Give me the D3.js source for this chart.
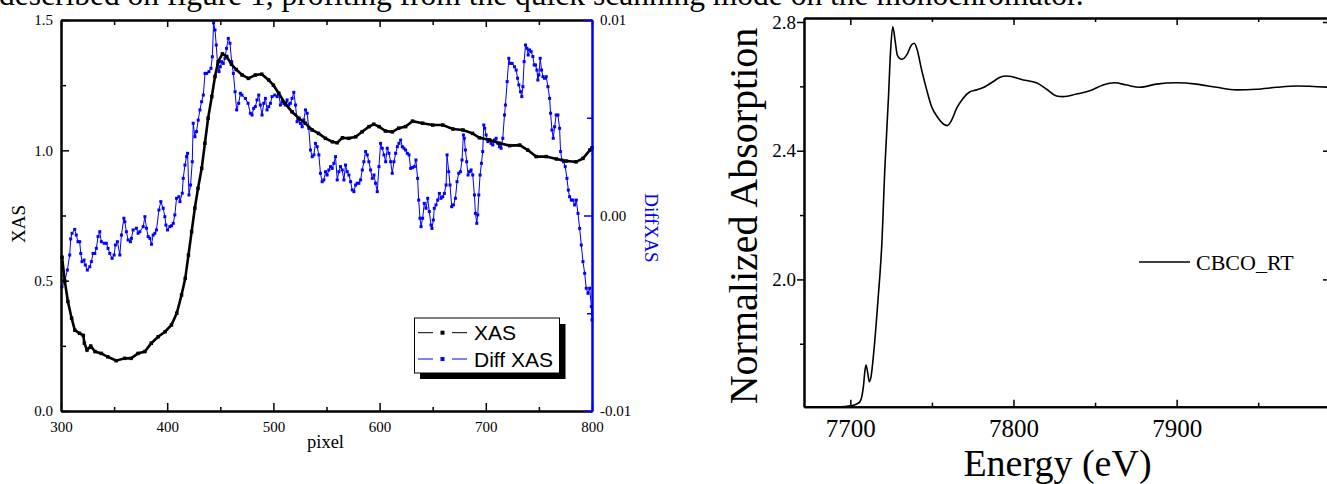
<!DOCTYPE html>
<html>
<head>
<meta charset="utf-8">
<script src="https://cdnjs.cloudflare.com/ajax/libs/d3/7.8.5/d3.min.js"></script>
<style>
html,body{margin:0;padding:0;background:#fff;}
svg{display:block;}
</style>
</head>
<body>
<svg id="chart" width="1327" height="484"></svg>
<script>
// ---------- data ----------
const xasPixel = [301,303.5,306.5,310,313,317.5,321,322,324.5,328,332,338,344,352,360,366,372.5,379,385,391.5,398,404,409,413.5,417,420,423,426,429,432.5,435.5,438.5,442,445,448,452,456,460.5,465,470.5,476.5,483,489,495.5,500,505,511,517.5,524,530,536.5,542.5,549,555.5,560,565,571,577.5,583.5,590,594.5,599.5,605.5,612,618,624.5,631,640.5,650,659.5,669,678.5,687.5,694,703.5,713,722.5,732,739.5,747.5,757,766.5,776,785,791.5,798,800];
const xasValue = [0.59,0.50,0.42,0.356,0.31,0.298,0.29,0.26,0.234,0.249,0.228,0.221,0.208,0.193,0.202,0.202,0.221,0.228,0.26,0.285,0.304,0.33,0.375,0.445,0.509,0.598,0.688,0.778,0.854,0.931,1.027,1.123,1.206,1.283,1.34,1.37,1.36,1.33,1.31,1.289,1.276,1.289,1.292,1.27,1.25,1.219,1.18,1.148,1.123,1.104,1.078,1.065,1.046,1.033,1.029,1.048,1.046,1.052,1.071,1.091,1.10,1.091,1.074,1.071,1.085,1.091,1.112,1.104,1.097,1.097,1.082,1.078,1.065,1.048,1.04,1.027,1.018,1.02,1.001,0.976,0.976,0.967,0.959,0.956,0.969,1.001,1.01];

const diffPixel = [300.9,303.5,306,308.2,309.1,310.4,312.9,314.4,316,317.6,318.6,319.8,321.7,322.9,324.8,327.1,328.6,330.2,331.8,333.3,334.9,336.5,338,340.6,342.7,344.3,345.9,348.1,350,351.2,353.1,355.4,356.9,359.2,360.1,361.6,363.2,365.4,366.3,367.9,371,372.6,374.2,377.4,379,380.5,382.1,383.7,385.2,386.8,388.4,389.9,392.2,394,396.2,397.8,398.8,400.3,402.5,404.1,405.7,407.2,408.8,411,412,414.2,415.1,416.7,418.2,419.2,420.5,422,423.6,424.5,426.1,427.6,429.2,430.8,432.4,434,435.6,437.2,439.3,441.2,442.5,443.7,445,446.2,447.5,448.8,450,451.2,452.8,454.4,455.9,457.5,459.1,460.7,462.3,463.9,465.4,467.3,468.9,470.4,473.6,476.1,478.3,479.9,481.4,483,484.6,486.2,487.7,489.3,490.9,492.5,494,495.6,497.2,498.7,501.3,503.5,505,506.6,508.2,509.8,511.3,512.9,514.5,516,517.6,519.2,520.8,522.3,523.9,525.5,527.1,528.6,530.2,531.8,533.3,534.9,536.5,538.1,539.6,541.2,542.8,544.3,545.9,547.5,549.1,550.6,552.2,553.8,555.4,556.9,558.5,560.1,561.6,563.2,564.8,566.4,567.9,569.5,571.1,572.7,574.2,575.8,577.4,578.9,580.5,582.1,583.7,585.2,586.8,588.4,589.9,591.5,593.1,594.7,596.2,597.8,599.4,600.9,602.5,604.1,605.7,607.2,608.8,610.4,611.9,613.5,615.1,616.7,618.2,619.8,621.4,622.9,624.5,626.1,627.7,629.2,631,632.7,634.2,635.8,636.8,638,639,640.5,642.1,643.7,645.3,646.8,648.4,649.3,650.6,651.5,653.1,654.7,656.3,657.8,659.4,661,662.6,663.5,665.1,666.3,667.9,669.5,671.4,672.9,674.5,676.1,677.6,678.9,679.8,680.8,682,683.3,684.6,686.1,687.7,689.3,690.2,691.5,692.4,693.4,694.6,695.9,697.1,698.1,699,700.3,701.9,703.4,705,706.6,708.2,709.7,711.3,712.9,714.4,716,717.6,718.5,720.1,721.7,722.9,724.8,727,728.6,729.9,731.1,732.7,733.9,734.9,736.1,737.4,738.7,739.9,741.2,742.7,744.3,745.6,746.8,748.1,749,750,751.2,752.5,753.8,755.3,756.9,758.5,760.1,761,762.3,763.5,764.8,766.3,767.9,769.5,770.4,771.7,773.3,774.8,776.4,777.7,778.9,780.5,782.1,783.6,785.2,786.8,788.4,789.9,791.5,793.1,794.6,796.2,797.8,799.4,800];
const diffValue = [-0.00364,-0.00339,-0.00279,-0.00202,-0.00120,-0.00091,-0.00071,-0.00100,-0.00134,-0.00134,-0.00194,-0.00236,-0.00228,-0.00253,-0.00279,-0.00262,-0.00236,-0.00194,-0.00194,-0.00168,-0.00108,-0.00083,-0.00134,-0.00142,-0.00142,-0.00168,-0.00194,-0.00219,-0.00202,-0.00151,-0.00134,-0.00202,-0.00100,-0.00014,-0.00032,-0.00083,-0.00125,-0.00134,-0.00117,-0.00074,-0.00065,-0.00091,-0.00083,-0.00057,-0.00006,-0.00065,-0.00108,-0.00117,-0.00147,-0.00100,-0.00091,-0.00074,0.00028,0.00071,0.00037,-0.00006,-0.00049,-0.00074,-0.00057,-0.00052,-0.00040,0.00003,0.00088,0.00096,0.00071,0.00114,0.00190,0.00258,0.00301,0.00318,0.00105,0.00156,0.00275,0.00472,0.00403,0.00429,0.00488,0.00540,0.00582,0.00616,0.00727,0.00727,0.00736,0.00753,0.00812,0.00985,0.00949,0.00872,0.00770,0.00736,0.00761,0.00787,0.00778,0.00804,0.00855,0.00906,0.00881,0.00787,0.00727,0.00633,0.00540,0.00574,0.00625,0.00616,0.00599,0.00574,0.00523,0.00514,0.00548,0.00557,0.00591,0.00616,0.00565,0.00514,0.00574,0.00599,0.00540,0.00557,0.00574,0.00608,0.00616,0.00608,0.00625,0.00565,0.00582,0.00574,0.00565,0.00591,0.00565,0.00574,0.00599,0.00630,0.00565,0.00480,0.00489,0.00471,0.00454,0.00489,0.00540,0.00523,0.00446,0.00335,0.00301,0.00310,0.00369,0.00352,0.00310,0.00216,0.00173,0.00182,0.00224,0.00207,0.00233,0.00250,0.00241,0.00267,0.00301,0.00182,0.00224,0.00250,0.00233,0.00182,0.00258,0.00224,0.00207,0.00173,0.00131,0.00122,0.00156,0.00165,0.00165,0.00182,0.00233,0.00275,0.00327,0.00310,0.00275,0.00233,0.00190,0.00207,0.00165,0.00122,0.00250,0.00369,0.00344,0.00310,0.00275,0.00344,0.00318,0.00275,0.00216,0.00275,0.00318,0.00352,0.00369,0.00386,0.00352,0.00344,0.00335,0.00318,0.00310,0.00241,0.00245,0.00250,0.00284,0.00190,0.00079,-0.00014,-0.00057,-0.00014,0.00062,0.00037,0.00088,0.00020,-0.00049,-0.00066,-0.00023,0.00037,0.00054,0.00079,0.00113,0.00088,0.00096,0.00113,0.00156,0.00310,0.00224,0.00156,0.00045,0.00054,0.00088,0.00173,0.00216,0.00224,0.00284,0.00412,0.00395,0.00335,0.00275,0.00207,0.00224,0.00233,0.00207,0.00105,0.00011,-0.00040,0.00003,0.00105,0.00207,0.00267,0.00327,0.00463,0.00446,0.00412,0.00378,0.00386,0.00369,0.00361,0.00386,0.00395,0.00369,0.00352,0.00344,0.00395,0.00514,0.00565,0.00685,0.00804,0.00778,0.00778,0.00761,0.00744,0.00702,0.00668,0.00633,0.00608,0.00659,0.00787,0.00872,0.00855,0.00821,0.00847,0.00838,0.00813,0.00770,0.00770,0.00744,0.00693,0.00719,0.00804,0.00744,0.00710,0.00702,0.00710,0.00659,0.00599,0.00523,0.00437,0.00395,0.00454,0.00514,0.00514,0.00446,0.00327,0.00284,0.00275,0.00250,0.00190,0.00130,0.00096,0.00079,0.00079,0.00054,0.00079,0.00011,-0.00066,-0.00151,-0.00236,-0.00296,-0.00372,-0.00398,-0.00372,-0.00466,-0.00534];

const energy = [7671.6,7693.7,7699.8,7703.9,7705.9,7707,7708,7709,7709.6,7710.7,7711.6,7712.7,7714.1,7715.7,7717.1,7718.2,7719.2,7721.2,7723.3,7724.7,7726,7727.4,7728.8,7731.5,7734.5,7737.6,7739.2,7741,7743.7,7746.8,7749.8,7753.9,7757,7759.4,7762.1,7765.2,7769.2,7773.3,7777.4,7782.5,7787.6,7791.7,7795.8,7806,7814.1,7820.3,7826.4,7830.4,7838.6,7846.8,7854.9,7862.1,7869.3,7877.4,7887.6,7899.9,7912.1,7924.4,7936.6,7948.9,7961.1,7973.4,7994];
const absorption = [1.604,1.604,1.607,1.613,1.620,1.635,1.667,1.718,1.734,1.708,1.682,1.698,1.760,1.853,1.946,2.019,2.100,2.350,2.558,2.713,2.785,2.744,2.697,2.684,2.697,2.729,2.734,2.713,2.651,2.589,2.537,2.501,2.483,2.478,2.495,2.532,2.563,2.583,2.589,2.599,2.615,2.628,2.632,2.620,2.611,2.591,2.570,2.568,2.576,2.586,2.604,2.611,2.604,2.597,2.607,2.611,2.607,2.597,2.589,2.591,2.597,2.601,2.597];

const pixelTicks = [300,400,500,600,700,800];
const pixelMinor = [350,450,550,650,750];
const xasTicks = [0.0,0.5,1.0,1.5];
const xasMinor = [0.25,0.75,1.25];
const diffTicks = [-0.01,0.0,0.01];
const diffMinor = [-0.005,0.005];
const energyTicks = [7700,7800,7900];
const energyMinor = [7750,7850,7950];
const absTicks = [2.0,2.4,2.8];
const absMinor = [1.8,2.2,2.6];

const legendLeft = ["XAS","Diff XAS"];
const legendRight = "CBCO_RT";
const topText = "described on figure 1, profiting from the quick scanning mode on the monochromator.";

// ---------- drawing ----------
const svg = d3.select("#chart");
const SERIF = "'Liberation Serif','Times New Roman',serif";
const SANS = "'Liberation Sans',Arial,sans-serif";
const BLUE = "#0000ff";

svg.append("rect").attr("width",1327).attr("height",484).attr("fill","#fff");

svg.append("text").attr("x",-1).attr("y",5)
  .attr("font-family",SERIF).attr("font-size",31.5).attr("fill","#000")
  .text(topText);

function styleAxis(g, color, fontSize, sw){
  g.select(".domain").attr("stroke",color).attr("stroke-width",sw||2);
  g.selectAll(".tick line").attr("stroke",color).attr("stroke-width",1.5);
  g.selectAll(".tick text").attr("fill","#000").attr("font-family",SERIF).attr("font-size",fontSize);
  g.attr("font-family",null).attr("font-size",null);
}

// ===== Left chart =====
const L = {x0:61,x1:592,y0:20,y1:411};
const xL = d3.scaleLinear().domain([300,800]).range([L.x0,L.x1]);
const yX = d3.scaleLinear().domain([0,1.5]).range([L.y1,L.y0]);
const yD = d3.scaleLinear().domain([-0.01,0.01]).range([L.y1,L.y0]);

const gl = svg.append("g");
// series
const dataX = xasPixel.map((p,i)=>[p,xasValue[i]]);
const dataD = diffPixel.map((p,i)=>[p,diffValue[i]]);

gl.append("path").datum(dataD)
  .attr("fill","none").attr("stroke",BLUE).attr("stroke-width",1)
  .attr("d",d3.line().x(d=>xL(d[0])).y(d=>yD(d[1])));
gl.append("g").selectAll("rect").data(dataD).join("rect")
  .attr("x",d=>xL(d[0])-1.5).attr("y",d=>yD(d[1])-1.5)
  .attr("width",3).attr("height",3).attr("fill",BLUE);

gl.append("path").datum(dataX)
  .attr("fill","none").attr("stroke","#000").attr("stroke-width",2.6)
  .attr("d",d3.line().x(d=>xL(d[0])).y(d=>yX(d[1])));
gl.append("g").selectAll("rect").data(dataX).join("rect")
  .attr("x",d=>xL(d[0])-1.75).attr("y",d=>yX(d[1])-1.75)
  .attr("width",3.5).attr("height",3.5).attr("fill","#000");

// axes
let a;
a = gl.append("g").attr("transform",`translate(0,${L.y1})`)
  .call(d3.axisBottom(xL).tickValues(pixelTicks).tickSize(-8).tickSizeOuter(0).tickPadding(10).tickFormat(d3.format("d")));
styleAxis(a,"#000",15);
a = gl.append("g").attr("transform",`translate(0,${L.y1})`)
  .call(d3.axisBottom(xL).tickValues(pixelMinor).tickSize(-4).tickSizeOuter(0).tickFormat(""));
styleAxis(a,"#000",15);
a = gl.append("g").attr("transform",`translate(0,${L.y0})`)
  .call(d3.axisTop(xL).tickValues(pixelTicks).tickSize(-7).tickSizeOuter(0).tickFormat(""));
styleAxis(a,"#000",15);
a = gl.append("g").attr("transform",`translate(0,${L.y0})`)
  .call(d3.axisTop(xL).tickValues(pixelMinor).tickSize(-5).tickSizeOuter(0).tickFormat(""));
styleAxis(a,"#000",15);
a = gl.append("g").attr("transform",`translate(${L.x0},0)`)
  .call(d3.axisLeft(yX).tickValues(xasTicks).tickSize(-8).tickSizeOuter(0).tickPadding(8).tickFormat(d=>d.toFixed(1)));
styleAxis(a,"#000",15);
a = gl.append("g").attr("transform",`translate(${L.x0},0)`)
  .call(d3.axisLeft(yX).tickValues(xasMinor).tickSize(-5).tickSizeOuter(0).tickFormat(""));
styleAxis(a,"#000",15);
a = gl.append("g").attr("transform",`translate(${L.x1},0)`)
  .call(d3.axisRight(yD).tickValues(diffTicks).tickSize(-8).tickSizeOuter(0).tickPadding(8).tickFormat(d=>d.toFixed(2)));
styleAxis(a,BLUE,15);
a = gl.append("g").attr("transform",`translate(${L.x1},0)`)
  .call(d3.axisRight(yD).tickValues(diffMinor).tickSize(-5).tickSizeOuter(0).tickFormat(""));
styleAxis(a,BLUE,15);

// axis titles
gl.append("text").attr("transform","translate(25,224) rotate(-90)")
  .attr("text-anchor","middle").attr("font-family",SERIF).attr("font-size",19).text("XAS");
gl.append("text").attr("x",325.5).attr("y",448)
  .attr("text-anchor","middle").attr("font-family",SERIF).attr("font-size",18.5).text("pixel");
gl.append("text").attr("transform","translate(645,228) rotate(90)")
  .attr("text-anchor","middle").attr("font-family",SERIF).attr("font-size",19).attr("fill",BLUE).text("DiffXAS");

// legend
const lg = gl.append("g");
lg.append("rect").attr("x",420).attr("y",324).attr("width",145.5).attr("height",55).attr("fill","#000");
lg.append("rect").attr("x",414.5).attr("y",318).attr("width",145).attr("height",55).attr("fill","#fff").attr("stroke","#000").attr("stroke-width",1);
const lgColors = ["#000",BLUE];
legendLeft.forEach((name,i)=>{
  const cy = 332.7 + i*26.3;
  const c = lgColors[i];
  lg.append("line").attr("x1",418).attr("x2",433).attr("y1",cy).attr("y2",cy).attr("stroke",c).attr("stroke-width",1);
  lg.append("line").attr("x1",452).attr("x2",467).attr("y1",cy).attr("y2",cy).attr("stroke",c).attr("stroke-width",1);
  lg.append("rect").attr("x",440.5).attr("y",cy-2).attr("width",4).attr("height",4).attr("fill",c);
  lg.append("text").attr("x",474).attr("y",cy+7.5).attr("font-family",SANS).attr("font-size",21).attr("fill","#000").text(name);
});

// ===== Right chart =====
const R = {x0:804,x1:1330,y0:18,y1:406.7};
const xR = d3.scaleLinear().domain([7671.6,7994]).range([R.x0,R.x1]);
const yR = d3.scaleLinear().domain([1.6044,2.8124]).range([R.y1,R.y0]);
const gr = svg.append("g");
const dataR = energy.map((e,i)=>[e,absorption[i]]);
gr.append("path").datum(dataR)
  .attr("fill","none").attr("stroke","#000").attr("stroke-width",1.6)
  .attr("d",d3.line().curve(d3.curveMonotoneX).x(d=>xR(d[0])).y(d=>yR(d[1])));

a = gr.append("g").attr("transform",`translate(0,${R.y1})`)
  .call(d3.axisBottom(xR).tickValues(energyTicks).tickSize(-7).tickSizeOuter(0).tickPadding(13).tickFormat(d3.format("d")));
styleAxis(a,"#000",25);
a = gr.append("g").attr("transform",`translate(0,${R.y1})`)
  .call(d3.axisBottom(xR).tickValues(energyMinor).tickSize(-4).tickSizeOuter(0).tickFormat(""));
styleAxis(a,"#000",25);
a = gr.append("g").attr("transform",`translate(0,${R.y0})`)
  .call(d3.axisTop(xR).tickValues(energyTicks).tickSize(-7).tickSizeOuter(0).tickFormat(""));
styleAxis(a,"#000",25);
a = gr.append("g").attr("transform",`translate(0,${R.y0})`)
  .call(d3.axisTop(xR).tickValues(energyMinor).tickSize(-4).tickSizeOuter(0).tickFormat(""));
styleAxis(a,"#000",25);
a = gr.append("g").attr("transform",`translate(${R.x0},0)`)
  .call(d3.axisLeft(yR).tickValues(absTicks).tickSize(7).tickSizeOuter(0).tickPadding(1).tickFormat(d=>d.toFixed(1)));
styleAxis(a,"#000",19);
a = gr.append("g").attr("transform",`translate(${R.x0},0)`)
  .call(d3.axisLeft(yR).tickValues(absMinor).tickSize(4).tickSizeOuter(0).tickFormat(""));
styleAxis(a,"#000",19);
a = gr.append("g").attr("transform",`translate(${R.x1},0)`)
  .call(d3.axisRight(yR).tickValues(absTicks).tickSize(-7).tickSizeOuter(0).tickFormat(""));
styleAxis(a,"#000",19);

gr.append("text").attr("transform","translate(757,216) rotate(-90)")
  .attr("text-anchor","middle").attr("font-family",SERIF).attr("font-size",40).text("Normalized Absorption");
gr.append("text").attr("x",1057.5).attr("y",476)
  .attr("text-anchor","middle").attr("font-family",SERIF).attr("font-size",38).text("Energy (eV)");

gr.append("line").attr("x1",1139).attr("x2",1190).attr("y1",262).attr("y2",262).attr("stroke","#000").attr("stroke-width",1.6);
gr.append("text").attr("x",1196).attr("y",269.5).attr("font-family",SERIF).attr("font-size",22).text(legendRight);
</script>
</body>
</html>
